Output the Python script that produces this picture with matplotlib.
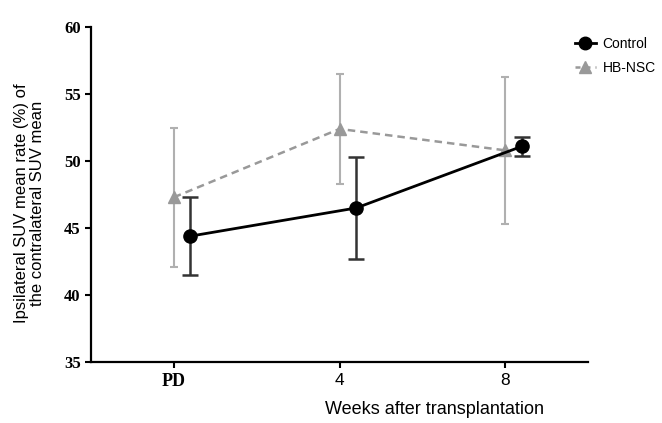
import matplotlib
matplotlib.use("Agg")
import matplotlib.pyplot as plt
from matplotlib.lines import Line2D
import numpy as np

weeks = ["PD", "4", "8"]
control_mean = [44.4, 46.5, 51.1]
control_lo = [41.5, 42.7, 50.4]
control_hi = [47.3, 50.3, 51.8]
hb_mean = [47.3, 52.4, 50.8]
hb_lo = [42.1, 48.3, 45.3]
hb_hi = [52.5, 56.5, 56.3]

x = np.arange(len(weeks))
fig = plt.figure(figsize=(6.62, 4.23), dpi=100)
ax = fig.add_axes([0.1375, 0.144, 0.751, 0.792])

hb_err = [np.array(hb_mean) - np.array(hb_lo), np.array(hb_hi) - np.array(hb_mean)]
ax.errorbar(x, hb_mean, yerr=hb_err, color="#999999", ecolor="#b0b0b0",
            linestyle=(0, (3, 2)), linewidth=1.8, marker="^", markersize=9,
            elinewidth=1.5, capsize=3, capthick=1.5, zorder=2)

ctrl_err = [np.array(control_mean) - np.array(control_lo),
            np.array(control_hi) - np.array(control_mean)]
ax.errorbar(x + 0.1, control_mean, yerr=ctrl_err, color="black", ecolor="#333333",
            linewidth=2, marker="o", markersize=9.5, elinewidth=1.8, capsize=6,
            capthick=1.8, zorder=3)

ax.set_xlim(-0.5, 2.5)
ax.set_ylim(35, 60)
ax.set_yticks([35, 40, 45, 50, 55, 60])
ax.set_xticks(x)
ax.set_xticklabels(weeks)
for s in ["top", "right"]:
    ax.spines[s].set_visible(False)
for s in ["left", "bottom"]:
    ax.spines[s].set_linewidth(1.6)
ax.tick_params(axis="both", direction="out", length=4, width=1.5)
for lab in ax.get_yticklabels():
    lab.set_fontfamily("Liberation Serif")
    lab.set_fontweight("bold")
    lab.set_fontsize(12)
xl = ax.get_xticklabels()
xl[0].set_fontfamily("Liberation Serif")
xl[0].set_fontweight("bold")
xl[0].set_fontsize(13)
for lab in xl[1:]:
    lab.set_fontfamily("Liberation Sans")
    lab.set_fontsize(12.5)

fig.text(0.044, 0.52, "Ipsilateral SUV mean rate (%) of\nthe contralateral SUV mean",
         rotation=90, ha="center", va="center", fontsize=12,
         family="Liberation Sans", linespacing=1.1)
fig.text(0.657, 0.031, "Weeks after transplantation", ha="center", va="center",
         fontsize=13, family="Liberation Sans")

handles = [
    Line2D([], [], color="black", linewidth=2, marker="o", markersize=9),
    Line2D([], [], color="#999999", linewidth=1.8, linestyle=(0, (2, 2)),
           marker="^", markersize=8),
]
fig.legend(handles, ["Control", "HB-NSC"], loc="upper left",
           bbox_to_anchor=(0.858, 0.93), borderpad=0, frameon=False,
           prop={"family": "Liberation Sans", "size": 10},
           handlelength=1.5, handletextpad=0.5, labelspacing=0.75)

fig.savefig("out.png", dpi=100)
